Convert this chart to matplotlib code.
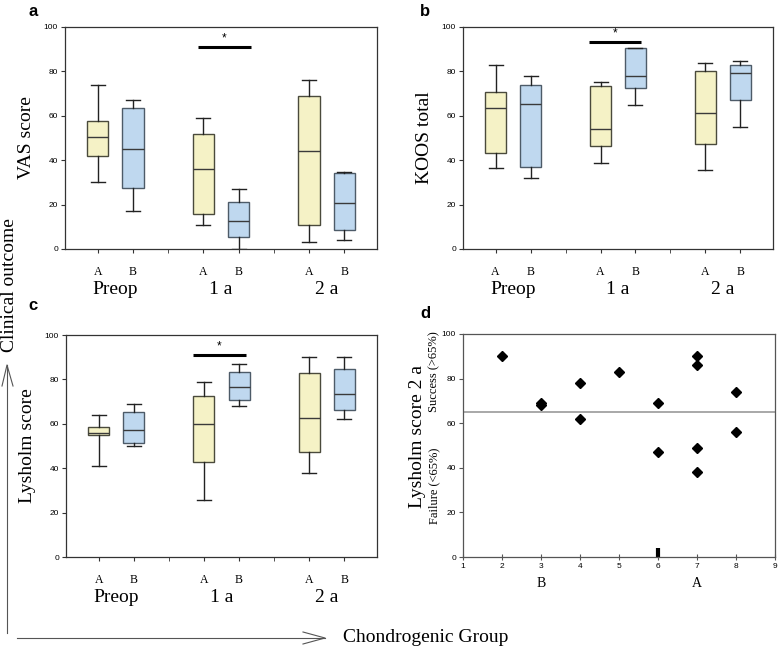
import matplotlib
matplotlib.use("Agg")
import matplotlib.pyplot as plt
from matplotlib.lines import Line2D

plt.rcParams['font.family'] = ['Liberation Sans', 'DejaVu Sans']
SERIF = ['Liberation Serif', 'DejaVu Serif']

# box stats: [whisker low, Q1, median, Q3, whisker high], order Preop A, Preop B, 1a A, 1a B, 2a A, 2a B
vas = [[30, 42.1, 50.5, 57.8, 73.9], [17, 27.4, 44.9, 63.3, 67.1],
       [11, 15.8, 36, 51.7, 59], [0, 5.3, 12.7, 21, 27],
       [3.2, 10.9, 44, 68.8, 76], [4, 8.6, 20.5, 34.2, 34.8]]
koos = [[36.3, 43.4, 63.3, 70.6, 82.7], [32.1, 37.1, 65.5, 73.9, 78],
        [38.6, 46.5, 54.1, 73.2, 75], [64.9, 72.4, 78, 90.5, 90.6],
        [35.6, 47.4, 61.4, 80.4, 84], [54.8, 67.3, 79.5, 83.1, 84.8]]
lysholm = [[41, 55.1, 55.8, 58.5, 64], [49.9, 51.3, 57, 65.2, 68.9],
           [25.9, 42.7, 60, 72.7, 79], [67.9, 70.9, 76.6, 83.3, 87],
           [38, 47.4, 62.6, 83, 89.9], [62, 66.4, 73.5, 84.8, 89.9]]
groups = ['A', 'B', 'A', 'B', 'A', 'B']
timepoints = ['Preop', '1 a', '2 a']
positions = [1, 2, 4, 5, 7, 8]

# panel d: Lysholm score at 2 years vs chondrogenic score
d_x = [2, 3, 3, 4, 4, 5, 6, 6, 7, 7, 7, 7, 8, 8]
d_y = [90, 69, 68, 78, 62, 83, 69, 47, 90, 86, 49, 38, 74, 56]
threshold = 65
cutoff = 6

YELLOW = '#f5f2c6'
BLUE = '#bfd8ef'

W, H = 778, 647
fig = plt.figure(figsize=(W / 100, H / 100), dpi=100)


def px(x, y):
    return x / W, 1 - y / H


def rect(l, t, r, b):
    return [l / W, 1 - b / H, (r - l) / W, (b - t) / H]


def box_panel(ax, data, ylabel, sig_x, sig_y):
    stats = []
    for s in data:
        stats.append(dict(whislo=s[0], q1=s[1], med=s[2], q3=s[3], whishi=s[4], fliers=[]))
    bp = ax.bxp(stats, positions=positions, widths=0.6, capwidths=0.4,
                patch_artist=True, showfliers=False,
                medianprops=dict(color='#3a3a3a', lw=1.0),
                whiskerprops=dict(color='#222222', lw=1.0),
                capprops=dict(color='#222222', lw=1.0))
    for i, b in enumerate(bp['boxes']):
        if i % 2 == 0:
            b.set_facecolor(YELLOW)
            b.set_edgecolor('#4a4a3c')
        else:
            b.set_facecolor(BLUE)
            b.set_edgecolor('#4d5b68')
        b.set_linewidth(1.0)
    ax.set_xlim(0.07, 8.93)
    ax.set_ylim(0, 100)
    ax.set_yticks([0, 20, 40, 60, 80, 100])
    ax.set_xticks(positions)
    ax.set_xticklabels(groups, family=SERIF, fontsize=8.5)
    ax.set_xticks([3, 6], minor=True)
    ax.tick_params(axis='x', which='both', direction='out', length=3, pad=9, color='#333333')
    ax.tick_params(axis='y', direction='out', length=3, pad=2, labelsize=6, color='#333333')
    for sp in ax.spines.values():
        sp.set_color('#333333')
        sp.set_linewidth(0.9)
    for xc, lab in zip([1.5, 4.5, 7.5], timepoints):
        ax.annotate(lab, xy=(xc, 0), xycoords=('data', 'axes fraction'),
                    xytext=(0, -29), textcoords='offset points',
                    ha='center', va='center', family=SERIF, fontsize=14)
    ax.set_ylabel(ylabel, family=SERIF, fontsize=14, labelpad=6)
    ax.plot(sig_x, [sig_y, sig_y], color='black', lw=2.2, solid_capstyle='butt')
    ax.text(sum(sig_x) / 2, sig_y + 1.2, '*', ha='center', va='bottom', fontsize=8.5)


ax_a = fig.add_axes(rect(65, 27, 377, 249))
box_panel(ax_a, vas, 'VAS score', [3.84, 5.35], 91.1)
ax_b = fig.add_axes(rect(463, 27, 773, 249))
box_panel(ax_b, koos, 'KOOS total', [3.67, 5.16], 93.2)
ax_c = fig.add_axes(rect(66, 335, 377, 557))
box_panel(ax_c, lysholm, 'Lysholm score', [3.69, 5.19], 91.1)

# panel d
ax_d = fig.add_axes(rect(463, 334, 775, 557))
ax_d.plot(d_x, d_y, 'D', color='black', ms=5.5, ls='none')
ax_d.axhline(threshold, color='#999999', lw=1.2)
ax_d.plot([cutoff, cutoff], [0, 4], color='black', lw=3, solid_capstyle='butt')
ax_d.set_xlim(1, 9)
ax_d.set_ylim(0, 100)
ax_d.set_xticks(range(1, 10))
ax_d.set_yticks([0, 20, 40, 60, 80, 100])
ax_d.tick_params(axis='x', direction='inout', length=4, pad=2, labelsize=6, color='#555555')
ax_d.tick_params(axis='y', direction='out', length=3, pad=2, labelsize=6, color='#555555')
for sp in ax_d.spines.values():
    sp.set_color('#555555')
    sp.set_linewidth(0.9)
for xc, lab in [(3, 'B'), (7, 'A')]:
    ax_d.annotate(lab, xy=(xc, 0), xycoords=('data', 'axes fraction'),
                  xytext=(0, -19), textcoords='offset points',
                  ha='center', va='center', family=SERIF, fontsize=10)
fig.text(*px(417, 437), 'Lysholm score 2 a', rotation=90, ha='center', va='center',
         family=SERIF, fontsize=14)
fig.text(*px(434, 372), 'Success (>65%)', rotation=90, ha='center', va='center',
         family=SERIF, fontsize=9)
fig.text(*px(434, 486), 'Failure (<65%)', rotation=90, ha='center', va='center',
         family=SERIF, fontsize=9)

# panel letters
for (x, y), letter in zip([(33, 12), (425, 12), (33, 305), (425, 314)], 'abcd'):
    fig.text(*px(x, y), letter, ha='center', va='center', fontsize=12, fontweight='bold')

# axis arrows
ac = '#555555'
fig.add_artist(Line2D([7 / W, 7 / W], [1 - 633 / H, 1 - 365 / H], color=ac, lw=0.8))
fig.add_artist(Line2D([2 / W, 7 / W, 13 / W], [1 - 386 / H, 1 - 365 / H, 1 - 386 / H], color=ac, lw=0.8))
fig.add_artist(Line2D([17 / W, 325 / W], [1 - 638 / H, 1 - 638 / H], color=ac, lw=0.8))
fig.add_artist(Line2D([303 / W, 325 / W, 303 / W], [1 - 632 / H, 1 - 638 / H, 1 - 644 / H], color=ac, lw=0.8))
fig.text(*px(10, 285), 'Clinical outcome', rotation=90, ha='center', va='center',
         family=SERIF, fontsize=14)
fig.text(*px(343, 638), 'Chondrogenic Group', ha='left', va='center',
         family=SERIF, fontsize=14)

fig.savefig('out.png', dpi=100)
